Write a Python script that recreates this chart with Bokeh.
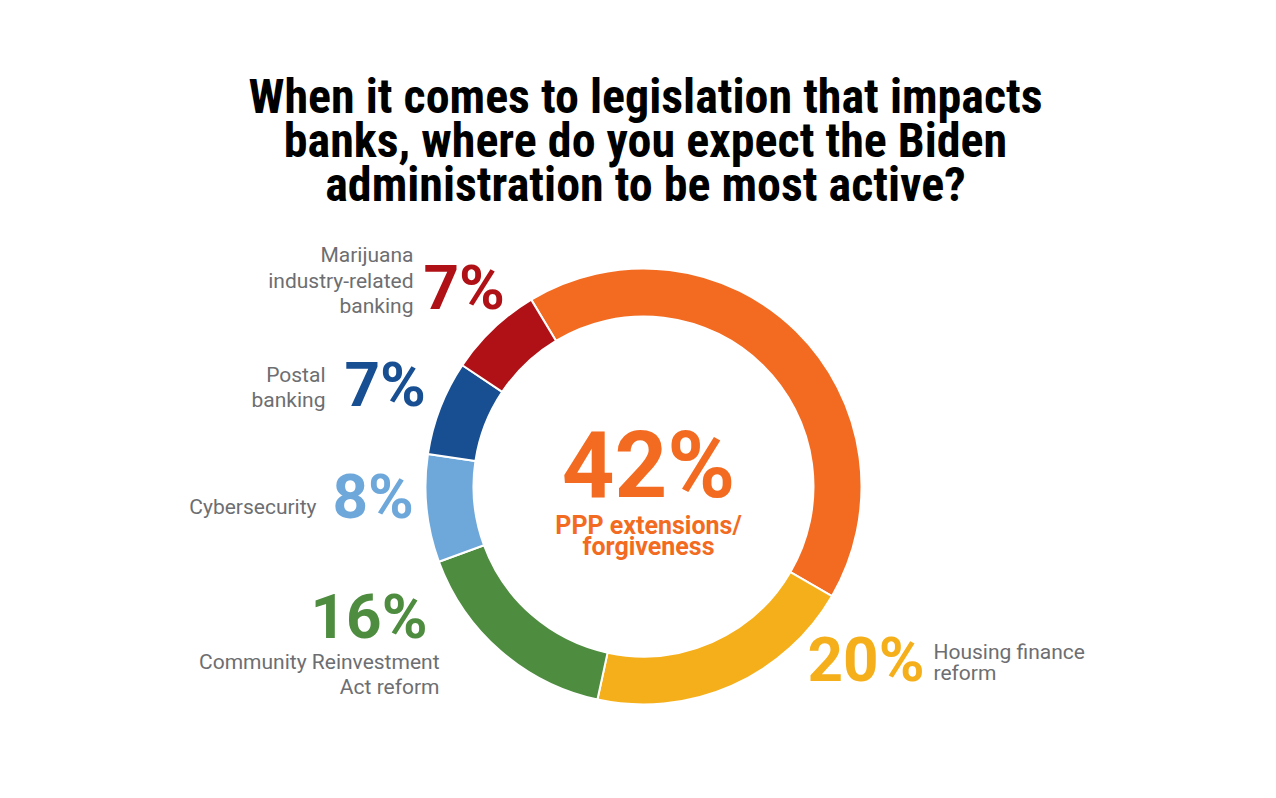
import numpy as np
from bokeh.plotting import figure
from bokeh.models import Range1d, ColumnDataSource
from bokeh.core.properties import value
from bokeh.embed import file_html
from bokeh.resources import INLINE

# ---- data ----
categories = ["PPP extensions/forgiveness", "Housing finance reform",
              "Community Reinvestment Act reform", "Cybersecurity",
              "Postal banking", "Marijuana industry-related banking"]
values = [42, 20, 16, 8, 7, 7]
colors = ["#F26B21", "#F5AF1B", "#4E8C3F", "#6EA8DB", "#174F92", "#B01116"]
pct_labels = [f"{v}%" for v in values]

W, H = 1260, 782
GRAY = "#6D6E71"

def px(x, y):
    # screen pixel (from top-left) -> data coordinate
    return x, H - y

p = figure(width=W, height=H, output_backend="svg", toolbar_location=None,
           x_range=Range1d(0, W), y_range=Range1d(0, H), min_border=0)
p.axis.visible = False
p.grid.visible = False
p.outline_line_color = None
p.background_fill_color = "white"
p.border_fill_color = "white"

# ---- donut ----
start_deg = 121.0
vals = np.array(values, dtype=float)
cum = np.concatenate([[0], np.cumsum(vals)]) / vals.sum() * 360.0
starts = np.deg2rad(start_deg - cum[1:])
ends = np.deg2rad(start_deg - cum[:-1])
cx, cy = px(643, 486)
src = ColumnDataSource(dict(start=starts, end=ends, color=colors, cat=categories))
p.annular_wedge(x=cx, y=cy, inner_radius=170, outer_radius=218,
                start_angle="start", end_angle="end", color="color",
                line_color="white", line_width=2, source=src)

def txt(x, y, s, size, color, align="left", bold=False, font="Roboto"):
    # y is the desired alphabetic baseline on screen
    X, Y = px(x, y - 0.385 * size)
    p.text(x=[X], y=[Y], text=[s], text_font=value(font), text_font_size=f"{size}px",
           text_color=color, text_align=align, text_baseline="alphabetic",
           text_font_style="bold" if bold else "normal")

# ---- title ----
title_lines = ["When it comes to legislation that impacts",
               "banks, where do you expect the Biden",
               "administration to be most active?"]
TITLE_FONT = "Noto Sans ExtraCondensed, Roboto Condensed, DejaVu Sans Condensed"
for s, yb in zip(title_lines, [114, 158, 202]):
    txt(645, yb, s, 48, "#000000", align="center", bold=True, font=TITLE_FONT)

# ---- percentages ----
# PPP (center)
txt(648, 500, pct_labels[0], 92, colors[0], align="center", bold=True)
txt(648, 535, "PPP extensions/", 25, colors[0], align="center", bold=True)
txt(648, 556, "forgiveness", 25, colors[0], align="center", bold=True)
# Housing
txt(807, 683, pct_labels[1], 62, colors[1], bold=True)
txt(933, 660, "Housing finance", 21, GRAY)
txt(933, 681, "reform", 21, GRAY)
# Community
txt(427, 640, pct_labels[2], 62, colors[2], align="right", bold=True)
txt(439, 670, "Community Reinvestment", 21, GRAY, align="right")
txt(439, 695, "Act reform", 21, GRAY, align="right")
# Cyber
txt(332, 520, pct_labels[3], 62, colors[3], bold=True)
txt(316, 515, "Cybersecurity", 21, GRAY, align="right")
# Postal
txt(344, 408, pct_labels[4], 62, colors[4], bold=True)
txt(325, 383, "Postal", 21, GRAY, align="right")
txt(325, 408, "banking", 21, GRAY, align="right")
# Marijuana
txt(423, 311, pct_labels[5], 62, colors[5], bold=True)
txt(413, 263, "Marijuana", 21, GRAY, align="right")
txt(413, 289, "industry-related", 21, GRAY, align="right")
txt(413, 314, "banking", 21, GRAY, align="right")

open("out.html", "w").write(file_html(p, INLINE))
